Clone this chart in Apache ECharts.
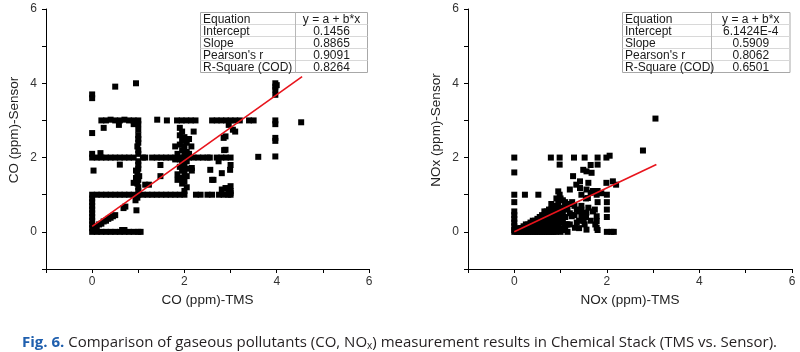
<!DOCTYPE html>
<html>
<head>
<meta charset="utf-8">
<title>TMS vs Sensor</title>
<script src="https://cdn.jsdelivr.net/npm/echarts@6/dist/echarts.min.js"></script>
<style>
  html, body { margin: 0; padding: 0; background: #fff; }
  #main { width: 800px; height: 352px; }
</style>
</head>
<body>
<div id="main"></div>
<script>
// CO: TMS (x) vs Sensor (y), ppm
var coPoints = [
    // y = 0 row
    [0, 0], [0.1, 0], [0.2, 0], [0.3, 0], [0.4, 0], [0.5, 0], [0.6, 0], [0.7, 0], [0.8, 0], [0.9, 0], [1.0, 0], [1.05, 0],
    [0.65, 0.05], [0.7, 0.05],
    // x = 0 column
    [0, 0.1], [0, 0.2], [0, 0.3], [0, 0.4], [0, 0.5], [0, 0.6], [0, 0.7], [0, 0.8], [0, 0.9], [0, 1.0],
    // y = 1 row
    [0.1, 1], [0.2, 1], [0.3, 1], [0.4, 1], [0.5, 1], [0.6, 1], [0.7, 1], [0.8, 1], [0.9, 1], [1.0, 1],
    [1.1, 1], [1.2, 1], [1.3, 1], [1.4, 1], [1.5, 1], [1.6, 1], [1.7, 1], [1.8, 1], [1.9, 1], [2.0, 1],
    [2.25, 1], [2.35, 1], [2.5, 1], [2.6, 1], [2.75, 1], [2.85, 1], [2.95, 1], [3.0, 1],
    // near the diagonal
    [0.05, 0.12], [0.1, 0.15], [0.15, 0.2], [0.2, 0.22], [0.25, 0.28], [0.3, 0.3], [0.35, 0.35], [0.4, 0.38],
    [0.45, 0.42], [0.5, 0.45], [0.68, 0.64], [0.72, 0.68], [0.96, 0.58], [0.94, 0.85], [0.98, 0.92],
    // x = 1 column
    [1, 1.1], [1, 1.2], [0.98, 1.3], [1, 1.4], [1.02, 1.5], [0.98, 1.6], [1, 1.7], [1, 1.8], [1, 1.9],
    [1, 2.1], [1, 2.2], [0.98, 2.3], [1, 2.4], [1, 2.5], [1, 2.6], [1, 2.75], [1, 2.9],
    [0.9, 1.32], [0.95, 1.45], [0.95, 1.65],
    // y = 2 row
    [0, 2], [0.1, 2], [0.2, 2], [0.3, 2], [0.4, 2], [0.5, 2], [0.6, 2], [0.7, 2], [0.8, 2], [0.9, 2], [1.1, 2], [1.15, 2],
    [1.3, 2], [1.4, 2], [1.5, 2], [1.6, 2], [1.7, 2], [1.8, 2], [1.9, 2], [2.0, 2], [2.1, 2], [2.2, 2],
    [2.3, 2], [2.4, 2], [2.5, 2], [2.55, 2], [2.7, 2], [2.8, 2], [2.9, 2], [3.0, 2],
    // y = 3 row
    [0.2, 3], [0.3, 3], [0.4, 3.02], [0.5, 3], [0.6, 3], [0.7, 3.02], [0.8, 3], [0.9, 3], [1.0, 3],
    [1.41, 3.02], [1.62, 3.0], [1.84, 3], [1.94, 3], [2.04, 3], [2.14, 3], [2.24, 3],
    [2.6, 3], [2.7, 3], [2.8, 3], [2.9, 3], [3.0, 3], [3.1, 3], [3.2, 3], [3.4, 3], [3.5, 3],
    [0.25, 2.8], [0.58, 2.88], [0.9, 2.9],
    // cluster around x = 2
    [1.9, 2.8], [1.95, 2.7], [1.9, 2.6], [2.0, 2.55], [1.95, 2.45], [2.05, 2.4], [1.9, 2.35], [2.0, 2.3],
    [1.95, 2.2], [2.05, 2.15], [1.85, 2.1], [2.0, 2.05], [1.9, 1.95], [2.05, 1.9], [1.95, 1.85], [2.0, 1.8],
    [1.9, 1.75], [2.05, 1.7], [1.95, 1.65], [2.0, 1.6], [1.85, 1.55], [2.05, 1.5], [1.95, 1.45], [1.85, 1.4],
    [2.0, 1.35], [1.95, 1.3], [2.05, 1.2], [2.0, 1.1], [2.2, 2.7], [2.16, 1.72], [1.8, 2.3], [1.8, 1.95],
    [2.1, 2.5], [2.1, 2.1], [2.15, 2.3], [2.16, 1.65],
    // around x = 3
    [3.0, 1.05], [3.0, 1.1], [2.95, 1.14], [2.81, 1.14], [2.89, 1.18], [3.0, 1.23], [2.6, 1.4], [2.81, 1.58],
    [2.99, 1.67], [2.56, 1.67], [3.0, 1.8], [2.74, 1.9], [2.86, 2.2], [2.89, 2.21], [2.89, 2.57], [2.85, 2.53],
    [3.1, 2.7], [2.96, 2.88], [3.05, 2.75], [2.63, 1.4],
    // x = 4 column
    [3.97, 4.0], [4.0, 3.95], [3.97, 3.91], [3.97, 3.83], [3.97, 3.69], [3.97, 3.0], [3.97, 2.9],
    [3.97, 2.53], [3.97, 2.45], [3.97, 2.03],
    // scattered
    [0, 3.6], [0, 3.7], [0.5, 3.91], [0.95, 4.0], [0, 2.66], [0, 2.1], [0.18, 2.12], [0.03, 1.65],
    [0.6, 1.81], [1.15, 1.27], [1.23, 1.27], [1.48, 1.5], [1.48, 1.8], [3.6, 2.02], [4.53, 2.95]
];

// NOx: TMS (x) vs Sensor (y), ppm
var noxPoints = [
    // x = 0 column
    [0, 2.0], [0, 1.6], [0, 1.0], [0, 0.8], [0, 0.55], [0, 0.45], [0, 0.35], [0, 0.25], [0, 0.15], [0, 0.05], [0, 0],
    // dense cloud near the origin
    [0.05, 0], [0.05, 0.05], [0.1, 0], [0.1, 0.05], [0.1, 0.1], [0.15, 0], [0.15, 0.05], [0.15, 0.1],
    [0.2, 0], [0.2, 0.05], [0.2, 0.1], [0.2, 0.15], [0.25, 0], [0.25, 0.05], [0.25, 0.1], [0.25, 0.15], [0.25, 0.2],
    [0.3, 0], [0.3, 0.05], [0.3, 0.1], [0.3, 0.15], [0.3, 0.2], [0.35, 0], [0.35, 0.1], [0.35, 0.2], [0.35, 0.25],
    [0.4, 0], [0.4, 0.05], [0.4, 0.1], [0.4, 0.2], [0.4, 0.25], [0.4, 0.3], [0.45, 0], [0.45, 0.1], [0.45, 0.15],
    [0.45, 0.25], [0.45, 0.3], [0.5, 0], [0.5, 0.05], [0.5, 0.15], [0.5, 0.2], [0.5, 0.3], [0.5, 0.35],
    [0.55, 0], [0.55, 0.1], [0.55, 0.2], [0.55, 0.3], [0.55, 0.4], [0.6, 0], [0.6, 0.05], [0.6, 0.15],
    [0.6, 0.25], [0.6, 0.35], [0.6, 0.4], [0.6, 0.45], [0.65, 0], [0.65, 0.1], [0.65, 0.2], [0.65, 0.3],
    [0.65, 0.45], [0.65, 0.55], [0.7, 0], [0.7, 0.05], [0.7, 0.15], [0.7, 0.3], [0.7, 0.4], [0.7, 0.55],
    [0.75, 0], [0.75, 0.1], [0.75, 0.25], [0.75, 0.35], [0.75, 0.5], [0.75, 0.6], [0.8, 0], [0.8, 0.05],
    [0.8, 0.2], [0.8, 0.3], [0.8, 0.45], [0.8, 0.6], [0.8, 0.75], [0.85, 0], [0.85, 0.1], [0.85, 0.25],
    [0.85, 0.4], [0.85, 0.55], [0.9, 0], [0.9, 0.15], [0.9, 0.3], [0.9, 0.5], [0.9, 0.6], [0.9, 0.7],
    [0.95, 0.05], [0.95, 0.2], [0.95, 0.35], [0.95, 0.55], [0.95, 0.75], [1.0, 0], [1.0, 0.1], [1.0, 0.25],
    [1.0, 0.45], [1.0, 0.65], [1.0, 0.9], [1.05, 0.05], [1.05, 0.3], [1.05, 0.55], [1.05, 0.85],
    [1.1, 0.1], [1.1, 0.2], [1.1, 0.4], [1.1, 0.7], [1.1, 0.8], [1.15, 0], [1.15, 0.2], [1.15, 0.6],
    // scattered to the right
    [1.2, 0.2], [1.2, 0.5], [1.2, 0.75], [1.2, 1.14], [1.25, 0.45], [1.25, 0.8], [1.24, 0.42], [1.3, 0.45],
    [1.3, 0.7], [1.31, 0.11], [1.35, 0.25], [1.35, 0.6], [1.4, 0.1], [1.4, 0.3], [1.4, 0.55], [1.45, 0.6],
    [1.45, 0.43], [1.45, 0.7], [1.45, 1.0], [1.5, 0.3], [1.5, 0.5], [1.52, 0.2], [1.55, 0.4], [1.55, 0.9],
    [1.56, 0.52], [1.56, 0.06], [1.56, 1.14], [1.59, 0.91], [1.6, 0.65], [1.65, 0.3], [1.7, 0.55],
    [1.74, 0.6], [1.75, 0.2], [1.78, 0.42], [1.78, 0.29], [1.78, 0.11], [1.8, 0.05], [1.13, 0.2],
    [1.65, 1.05], [1.7, 1.1], [1.78, 1.0], [1.88, 1.04], [1.8, 1.1], [1.8, 0.8],
    [0.95, 1.09], [0.98, 1.0], [0.91, 0.9], [0.23, 1.0], [0.52, 1.0],
    [1.27, 1.5], [1.42, 1.36], [1.34, 1.27], [1.42, 1.18], [1.49, 1.67], [1.56, 1.63], [1.67, 1.59],
    [1.6, 1.32], [1.99, 1.32], [2.13, 1.36], [2.2, 1.27],
    [0.79, 2.0], [0.98, 2.0], [0.98, 1.81], [1.29, 2.0], [1.52, 2.0], [1.65, 1.8], [1.8, 2.0], [1.8, 1.81],
    [1.99, 2.0], [2.06, 2.05],
    [2.0, 1.0], [2.0, 0.8], [2.0, 0.6], [2.0, 0.4], [2.0, 0], [2.1, 0], [2.15, 0],
    [2.78, 2.19], [3.05, 3.05]
];

// fit tables (Origin style)
var statLabels = ['Equation', 'Intercept', 'Slope', "Pearson's r", 'R-Square (COD)'];
var coStats = ['y = a + b*x', '0.1456', '0.8865', '0.9091', '0.8264'];
var noxStats = ['y = a + b*x', '6.1424E-4', '0.5909', '0.8062', '0.6501'];
var coFitRange = [0, 4.55];
var noxFitRange = [0, 3.07];

var axisTicks = [-1, 0, 1, 2, 3, 4, 5, 6];
var axisNames = {
    coX: 'CO (ppm)-TMS', coY: 'CO (ppm)-Sensor',
    noxX: 'NOx (ppm)-TMS', noxY: 'NOx (ppm)-Sensor'
};
var captionParts = ['Fig. 6.', ' Comparison of gaseous pollutants (CO, NO', 'x', ') measurement results in Chemical Stack (TMS vs. Sensor).'];

var font = 'Liberation Sans, Arial, sans-serif';

function fitLine(stats, range) {
    var a = parseFloat(stats[1]), b = parseFloat(stats[2]);
    return range.map(function (x) { return [x, a + b * x]; });
}

function makeAxis(idx, name, isX) {
    return {
        type: 'value',
        gridIndex: idx,
        min: axisTicks[0],
        max: axisTicks[axisTicks.length - 1],
        interval: 1,
        name: name,
        nameLocation: 'middle',
        nameGap: isX ? 24 : 25,
        nameTextStyle: { fontFamily: font, fontSize: 13.5, color: '#222', padding: isX ? 0 : [0, 0, 0, 18] },
        axisLine: { onZero: false, lineStyle: { color: '#000', width: 1 } },
        axisTick: { length: 4, lineStyle: { color: '#000', width: 1 } },
        splitLine: { show: false },
        axisLabel: {
            fontFamily: font, fontSize: 12, color: '#333', margin: isX ? 7 : 9,
            formatter: function (v) { return (v >= 0 && v % 2 === 0) ? String(v) : ''; }
        }
    };
}

// draws a stats table box as graphic elements
function statTable(left, top, width, split, values) {
    var rowH = 12, els = [];
    els.push({ type: 'rect', shape: { x: left, y: top, width: width, height: rowH * 5 },
        style: { fill: '#fff', stroke: '#a8a8a8', lineWidth: 1 }, z: 10 });
    for (var i = 1; i < 5; i++) {
        els.push({ type: 'line', shape: { x1: left, y1: top + i * rowH, x2: left + width, y2: top + i * rowH },
            style: { stroke: '#d8d8d8', lineWidth: 1 }, z: 11 });
    }
    els.push({ type: 'line', shape: { x1: left + split, y1: top, x2: left + split, y2: top + rowH * 5 },
        style: { stroke: '#b8b8b8', lineWidth: 1 }, z: 11 });
    for (var j = 0; j < 5; j++) {
        els.push({ type: 'text', x: left + 2.5, y: top + j * rowH + 7,
            style: { text: statLabels[j], font: '12px ' + font, fill: '#1a1a1a', verticalAlign: 'middle' }, z: 12 });
        els.push({ type: 'text', x: left + split + (width - split) / 2, y: top + j * rowH + 7,
            style: { text: values[j], font: '12px ' + font, fill: '#1a1a1a', align: 'center', verticalAlign: 'middle' }, z: 12 });
    }
    return els;
}

var myChart = echarts.init(document.getElementById('main'), null, { renderer: 'canvas' });

var graphics = [].concat(
    statTable(200.5, 12.5, 167, 95, coStats),
    statTable(622.5, 12.5, 167.5, 89, noxStats),
    [{
        type: 'text', x: 22, y: 343,
        style: {
            text: '{b|' + captionParts[0] + '}{n|' + captionParts[1] + '}{s|' + captionParts[2] + '}{n|' + captionParts[3] + '}',
            verticalAlign: 'middle',
            rich: {
                b: { fontFamily: 'Open Sans, sans-serif', fontSize: 15, fontWeight: 'bold', fill: '#1f5fae' },
                n: { fontFamily: 'Open Sans, sans-serif', fontSize: 15, fill: '#231f20' },
                s: { fontFamily: 'Open Sans, sans-serif', fontSize: 10, fill: '#231f20', padding: [7, 0, 0, 0] }
            }
        }
    }]
);

var option = {
    animation: false,
    backgroundColor: '#fff',
    grid: [
        { left: 46, top: 9, width: 323, height: 260 },
        { left: 468, top: 9, width: 324, height: 260 }
    ],
    xAxis: [makeAxis(0, axisNames.coX, true), makeAxis(1, axisNames.noxX, true)],
    yAxis: [makeAxis(0, axisNames.coY, false), makeAxis(1, axisNames.noxY, false)],
    series: [
        { type: 'scatter', xAxisIndex: 0, yAxisIndex: 0, data: coPoints, symbol: 'rect', symbolSize: 6,
          itemStyle: { color: '#000', opacity: 1 }, silent: true },
        { type: 'line', xAxisIndex: 0, yAxisIndex: 0, data: fitLine(coStats, coFitRange), showSymbol: false,
          lineStyle: { color: '#e8141c', width: 1.6 }, z: 5, silent: true },
        { type: 'scatter', xAxisIndex: 1, yAxisIndex: 1, data: noxPoints, symbol: 'rect', symbolSize: 6,
          itemStyle: { color: '#000', opacity: 1 }, silent: true },
        { type: 'line', xAxisIndex: 1, yAxisIndex: 1, data: fitLine(noxStats, noxFitRange), showSymbol: false,
          lineStyle: { color: '#e8141c', width: 1.6 }, z: 5, silent: true }
    ],
    graphic: graphics
};

myChart.setOption(option);
</script>
</body>
</html>
